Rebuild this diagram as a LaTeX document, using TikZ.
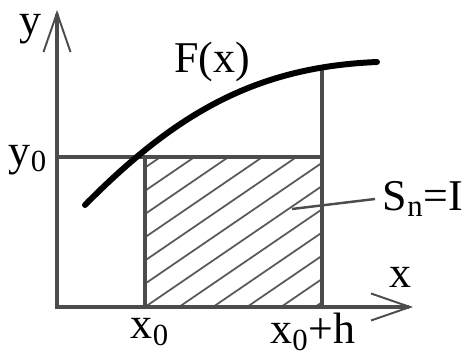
\documentclass[tikz,border=0pt]{standalone}
\usepackage{fontspec}
\setmainfont{Liberation Serif}
\usetikzlibrary{arrows.meta}
\begin{document}
\begin{tikzpicture}[
  x=1cm,y=1cm,
  font=\fontsize{25}{30}\selectfont,
  axtip/.tip={Straight Barb[length=0.78cm,width=0.54cm,line width=1.1pt]},
  axis/.style={line width=2.2pt, draw=black!70, {axtip}-{axtip}},
  edge/.style={line width=2pt, draw=black!70},
  hatch/.style={line width=1pt, draw=black!65},
  curve/.style={line width=3.4pt, line cap=round},
  lbl/.style={inner sep=0pt}
]
\useasboundingbox (-1.14,-1.02) rectangle (8.20,6.14);
\coordinate (O) at (0,0);
\coordinate (ytip) at (0,5.94);
\coordinate (xtip) at (7.12,0);
\coordinate (A) at (1.76,0);
\coordinate (B) at (5.30,0);
\coordinate (Y0) at (0,3.0);
\coordinate (A0) at (1.76,3.0);
\coordinate (B0) at (5.30,3.0);
\coordinate (Btop) at (5.30,4.74);
\coordinate (pin) at (4.70,1.96);
% hatched area
\begin{scope}
  \clip (A) rectangle (B0);
  \foreach \i in {-7,...,5}
    \draw[hatch] (1.76+0.68*\i,0) -- ++(6,4.1);
\end{scope}
\draw[edge] (Y0) -- (B0);
\draw[edge] (A) -- (A0);
\draw[edge] (B) -- (Btop);
\draw[axis] (ytip) -- (O) -- (xtip);
\draw[curve] (0.56,2.04) .. controls (2.4,3.9) and (4.0,4.8) .. (6.40,4.90);
% labels
\node[lbl] (ylab) at (-0.54,5.56) {y};
\node[lbl] (xlab) at (6.86,0.60) {x};
\node[lbl] (y0lab) at (-0.58,2.94) {y\textsubscript{0}};
\node[lbl] (x0lab) at (1.86,-0.50) {x\textsubscript{0}};
\node[lbl] (x0hlab) at (5.12,-0.50) {x\textsubscript{0}+h};
\node[lbl] (Flab) at (3.10,4.90) {F(x)};
\node[lbl, outer sep=0.16cm, anchor=west] (S) at (6.36,2.16) {S\textsubscript{n}=I};
\draw[edge, line width=1.4pt] (pin) -- (S.west);
\end{tikzpicture}
\end{document}
